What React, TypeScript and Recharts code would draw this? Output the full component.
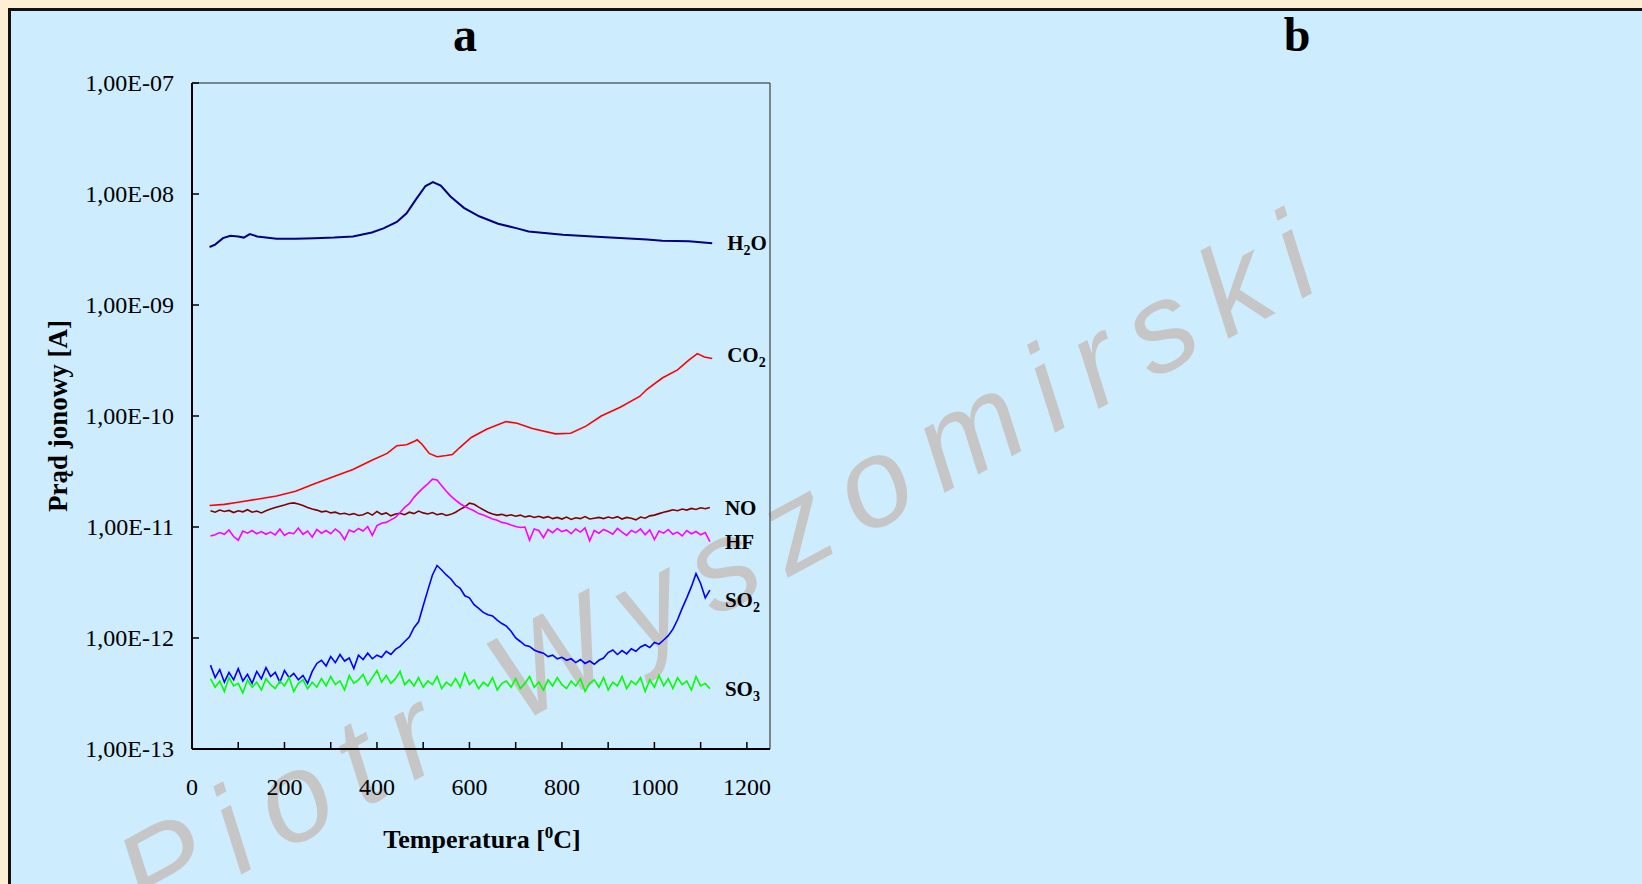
import React from "react";
import { Line, LineChart, ReferenceLine, XAxis, YAxis } from "recharts";

// temperature grid for the noisy signals [°C]
const TEMPS = [
  40, 50, 60, 70, 80, 90, 100, 110, 120, 130, 140,
  150, 160, 170, 180, 190, 200, 210, 220, 230, 240, 250,
  260, 270, 280, 290, 300, 310, 320, 330, 340, 350, 360,
  370, 380, 390, 400, 410, 420, 430, 440, 450, 460, 470,
  480, 490, 500, 510, 520, 530, 540, 550, 560, 570, 580,
  590, 600, 610, 620, 630, 640, 650, 660, 670, 680, 690,
  700, 710, 720, 730, 740, 750, 760, 770, 780, 790, 800,
  810, 820, 830, 840, 850, 860, 870, 880, 890, 900, 910,
  920, 930, 940, 950, 960, 970, 980, 990, 1000, 1010, 1020,
  1030, 1040, 1050, 1060, 1070, 1080, 1090, 1100, 1110, 1120,
];

// H2O, x 1e-9 A
const H2O_T = [38, 50, 67, 83, 100, 112, 125, 141, 160, 183, 224, 265, 307, 348, 389, 414, 443, 464, 484, 505, 521, 538, 559, 588, 621, 662, 703, 728, 802, 885, 935, 984, 1017, 1075, 1125];
const H2O = [3.33, 3.5, 4.0, 4.2, 4.15, 4.05, 4.35, 4.15, 4.05, 3.95, 3.95, 4.0, 4.05, 4.15, 4.5, 4.9, 5.6, 6.7, 8.9, 11.8, 12.8, 11.9, 9.5, 7.5, 6.3, 5.4, 4.9, 4.6, 4.3, 4.1, 4.0, 3.9, 3.8, 3.75, 3.6];

// CO2, x 1e-11 A
const CO2_T = [38, 70, 100, 141, 183, 224, 265, 307, 348, 389, 422, 443, 464, 480, 487, 497, 513, 530, 550, 563, 579, 604, 637, 679, 703, 736, 786, 819, 852, 885, 926, 968, 984, 1017, 1050, 1075, 1093, 1108, 1125];
const CO2 = [1.56, 1.6, 1.67, 1.78, 1.9, 2.1, 2.45, 2.85, 3.3, 4.0, 4.6, 5.4, 5.5, 5.9, 6.1, 5.6, 4.6, 4.3, 4.4, 4.5, 5.2, 6.4, 7.6, 8.9, 8.6, 7.7, 6.9, 7.0, 8.1, 10.0, 12.0, 15.0, 17.4, 22, 26, 32, 36.5, 34, 33];

// NO, x 1e-12 A
const NO = [
  14.0, 13.6, 14.2, 13.8, 14.1, 13.5, 14.0, 13.7, 14.3, 13.6, 13.9,
  13.4, 14.0, 14.5, 15.0, 15.4, 15.8, 16.3, 16.5, 16.1, 15.6, 15.0,
  14.5, 14.2, 13.7, 13.9, 13.4, 13.6, 13.1, 13.3, 12.9, 13.2, 12.7,
  12.9, 13.5, 12.8, 13.8, 13.0, 13.4, 12.6, 13.1, 13.3, 12.9, 13.6,
  13.2, 13.9, 13.4, 13.1, 13.5, 12.9, 13.2, 12.7, 13.0, 13.6, 14.4,
  15.2, 16.4, 16.0, 15.1, 14.3, 13.6, 13.1, 12.8, 13.0, 12.6, 12.9,
  12.5, 12.8, 12.3, 12.6, 12.2, 12.5, 12.1, 12.4, 11.9, 12.2, 11.8,
  12.3, 11.7, 12.1, 11.9, 12.4, 11.8, 12.0, 12.2, 11.9, 12.3, 12.0,
  12.4, 11.8, 12.2, 12.0, 11.6, 12.3, 12.0, 12.6, 12.8, 13.2, 13.6,
  13.9, 14.3, 14.0, 14.5, 14.2, 14.7, 14.4, 14.9, 14.6, 15.0,
];

// HF, x 1e-12 A
const HF = [
  8.3, 8.5, 8.9, 8.6, 9.4, 8.2, 7.6, 9.2, 8.8, 9.3, 8.7,
  9.1, 8.6, 9.0, 8.5, 9.6, 8.4, 8.9, 8.7, 9.8, 8.6, 9.2,
  8.1, 9.5, 8.8, 9.3, 8.7, 9.6, 8.9, 7.7, 9.4, 9.0, 9.7,
  9.2, 10.1, 8.4, 10.3, 10.8, 11.0, 11.6, 12.2, 13.5, 15.0, 16.2,
  18.5, 20.5, 22.5, 24.5, 27, 26.5, 23.5, 21, 19, 17.5, 16.2,
  15.3, 14.6, 14.0, 13.2, 12.8, 12.3, 11.8, 11.5, 11.0, 10.8, 10.4,
  10.1, 9.9, 10.0, 7.6, 9.6, 9.3, 8.0, 9.5, 8.9, 9.7, 9.1,
  9.4, 8.7, 9.6, 9.0, 9.8, 7.5, 9.3, 8.8, 9.5, 9.1, 8.6,
  9.7, 9.0, 8.4, 9.3, 8.9, 9.6, 8.5, 9.4, 7.7, 9.2, 8.8,
  9.5, 8.6, 9.0, 8.3, 9.3, 8.7, 9.1, 8.5, 8.9, 7.4,
];

// SO2, x 1e-13 A
const SO2 = [
  5.7, 4.4, 5.2, 4.0, 4.9, 4.2, 5.3, 4.1, 4.7, 3.9, 5.0,
  4.3, 5.4, 4.5, 4.9, 4.0, 5.1, 4.4, 4.8, 4.2, 4.6, 3.9,
  5.0, 5.9, 6.3, 5.6, 6.8, 6.0, 7.1, 6.2, 6.6, 5.3, 7.0,
  6.4, 7.3, 6.5, 7.0, 6.7, 7.6, 7.1, 7.9, 8.4, 9.3, 10.2,
  12.4, 14.0, 19.5, 27, 37, 45, 41, 37, 34, 30, 28,
  24, 23, 20, 18.5, 17.0, 16.2, 15.8, 14.5, 13.5, 12.8, 11.5,
  10.0, 9.3, 8.6, 8.4, 7.8, 7.5, 7.3, 6.8, 7.0, 6.5, 6.7,
  6.3, 6.5, 6.0, 6.4, 5.9, 6.2, 5.8, 6.3, 6.6, 7.4, 7.8,
  7.1, 7.7, 7.2, 8.0, 7.6, 8.3, 8.7, 8.2, 9.1, 8.8, 9.6,
  10.5, 12.0, 14.6, 18.5, 23, 29, 38, 31, 23, 27,
];

// SO3, x 1e-13 A
const SO3 = [
  4.3, 3.6, 4.1, 3.3, 4.4, 3.7, 3.9, 3.2, 4.2, 3.6, 4.0,
  3.4, 4.3, 3.8, 3.5, 4.1, 3.7, 4.4, 3.3, 3.9, 4.2, 3.5,
  4.0, 3.6, 4.3, 3.7, 4.5, 3.8, 4.1, 3.4, 4.6, 3.9, 4.2,
  4.7, 3.8, 4.4, 5.1, 4.0, 4.6, 3.9, 4.3, 5.0, 3.8, 4.2,
  3.7, 4.4, 3.6, 4.1, 3.8, 4.5, 3.5, 4.0, 3.7, 4.3, 3.6,
  4.8, 3.8, 4.2, 3.5, 4.0, 3.7, 4.4, 3.4, 3.9, 4.1, 3.6,
  4.3, 3.5, 3.9, 4.5, 3.6, 4.0, 3.4, 4.2, 3.7, 4.4, 3.8,
  3.5, 4.1, 3.7, 4.3, 3.3, 3.9, 4.2, 3.6, 4.4, 3.4, 4.0,
  3.7, 4.5, 3.5, 4.1, 3.8, 4.4, 3.3, 4.2, 3.6, 4.6, 3.7,
  4.3, 3.5, 4.4, 3.8, 4.1, 3.4, 4.5, 3.7, 3.9, 3.5,
];

const X_TICKS = [0, 100, 200, 300, 400, 500, 600, 700, 800, 900, 1000, 1100, 1200];
const Y_TICKS = [1e-13, 1e-12, 1e-11, 1e-10, 1e-9, 1e-8, 1e-7];

const toRows = (temps: number[], vals: number[], unit: number) =>
  temps.map((t, i) => ({ t, v: vals[i] * unit }));

const SERIES = [
  { name: "H2O", base: "H", sub: "2", tail: "O", rows: toRows(H2O_T, H2O, 1e-9), color: "#000080", width: 2, dy: 0 },
  { name: "CO2", base: "CO", sub: "2", tail: "", rows: toRows(CO2_T, CO2, 1e-11), color: "#ff0000", width: 1.6, dy: -3 },
  { name: "NO", base: "NO", sub: "", tail: "", rows: toRows(TEMPS, NO, 1e-12), color: "#800000", width: 1.6, dy: 1 },
  { name: "HF", base: "HF", sub: "", tail: "", rows: toRows(TEMPS, HF, 1e-12), color: "#ff00ff", width: 1.6, dy: 0 },
  { name: "SO2", base: "SO", sub: "2", tail: "", rows: toRows(TEMPS, SO2, 1e-13), color: "#0000ff", width: 1.6, dy: 10 },
  { name: "SO3", base: "SO", sub: "3", tail: "", rows: toRows(TEMPS, SO3, 1e-13), color: "#00ff00", width: 1.6, dy: 0 },
];

const SERIF = "'Liberation Serif', 'Times New Roman', serif";

function XTick({ x, y, payload }: any) {
  const v = payload.value;
  return (
    <g>
      <line x1={x} y1={y} x2={x} y2={y - 7} stroke="#000" strokeWidth={1.5} />
      {v % 200 === 0 && (
        <text x={x} y={y + 46} textAnchor="middle" fontFamily={SERIF} fontSize={24} fill="#000">
          {v}
        </text>
      )}
    </g>
  );
}

function YTick({ x, y, payload }: any) {
  const exp = Math.round(-Math.log10(payload.value));
  return (
    <g>
      <line x1={x} y1={y} x2={x + 7} y2={y} stroke="#000" strokeWidth={1.5} />
      <text x={x - 18} y={y + 8} textAnchor="end" fontFamily={SERIF} fontSize={24} fill="#000">
        {`1,00E-${String(exp).padStart(2, "0")}`}
      </text>
    </g>
  );
}

function endLabel(s: (typeof SERIES)[number]) {
  const last = s.rows.length - 1;
  return (p: any) => {
    if (p.index !== last) return <g key={p.index} />;
    return (
      <text key={p.index} x={p.x + 15} y={p.y + s.dy + 7} fontFamily={SERIF} fontSize={21} fontWeight="bold" fill="#000">
        <tspan>{s.base}</tspan>
        {s.sub && (
          <tspan dy={5} fontSize={14}>
            {s.sub}
          </tspan>
        )}
        {s.tail && <tspan dy={-5}>{s.tail}</tspan>}
      </text>
    );
  };
}

export default function App() {
  return (
    <div style={{ position: "absolute", left: 0, top: 0, width: 1642, height: 884, overflow: "hidden", background: "#fdefd3" }}>
      <div
        style={{
          position: "absolute",
          left: 8,
          top: 8,
          width: 1700,
          height: 1000,
          background: "#cdecfe",
          borderLeft: "3px solid #111",
          borderTop: "3px solid #111",
        }}
      />
      {/* watermark, kept under the plot so the labels stay readable */}
      <svg width={1642} height={884} style={{ position: "absolute", left: 0, top: 0, pointerEvents: "none" }}>
        <text
          x={736}
          y={606}
          transform="rotate(-28.5 736 606)"
          textAnchor="middle"
          fontFamily="'Liberation Sans', sans-serif"
          fontStyle="italic"
          fontSize={125}
          fill="#c6c6c6"
          textLength={1340}
          lengthAdjust="spacing"
        >
          Piotr Wyszomirski
        </text>
      </svg>
      <div style={{ position: "absolute", left: 0, top: 0 }}>
        <LineChart width={1642} height={884} margin={{ top: 83, right: 872, bottom: 75, left: 92 }}>
          <XAxis
            type="number"
            dataKey="t"
            domain={[0, 1250]}
            ticks={X_TICKS}
            interval={0}
            allowDataOverflow
            height={60}
            tickSize={0}
            tickMargin={0}
            tickLine={false}
            tick={<XTick />}
            axisLine={{ stroke: "#000", strokeWidth: 2 }}
          />
          <YAxis
            type="number"
            scale="log"
            domain={[1e-13, 1e-7]}
            ticks={Y_TICKS}
            interval={0}
            allowDataOverflow
            width={100}
            tickSize={0}
            tickMargin={0}
            tickLine={false}
            tick={<YTick />}
            axisLine={{ stroke: "#000", strokeWidth: 2 }}
          />
          <ReferenceLine y={1e-7} stroke="#222" strokeWidth={1.2} />
          <ReferenceLine x={1250} stroke="#444" strokeWidth={1.2} />
          {SERIES.map((s) => (
            <Line
              key={s.name}
              name={s.name}
              data={s.rows}
              dataKey="v"
              type="linear"
              stroke={s.color}
              strokeWidth={s.width}
              dot={false}
              isAnimationActive={false}
              label={endLabel(s)}
            />
          ))}
        </LineChart>
      </div>
      <div style={{ position: "absolute", left: 440, top: 7, width: 50, textAlign: "center", fontFamily: SERIF, fontWeight: "bold", fontSize: 48 }}>
        a
      </div>
      <div style={{ position: "absolute", left: 1272, top: 7, width: 50, textAlign: "center", fontFamily: SERIF, fontWeight: "bold", fontSize: 48 }}>
        b
      </div>
      <div
        style={{
          position: "absolute",
          left: 58,
          top: 416,
          transform: "translate(-50%, -50%) rotate(-90deg)",
          whiteSpace: "nowrap",
          fontFamily: SERIF,
          fontWeight: "bold",
          fontSize: 27,
        }}
      >
        Prąd jonowy [A]
      </div>
      <div
        style={{
          position: "absolute",
          left: 482,
          top: 839,
          transform: "translate(-50%, -50%)",
          whiteSpace: "nowrap",
          fontFamily: SERIF,
          fontWeight: "bold",
          fontSize: 26,
        }}
      >
        Temperatura [<sup style={{ fontSize: 17 }}>0</sup>C]
      </div>
    </div>
  );
}
